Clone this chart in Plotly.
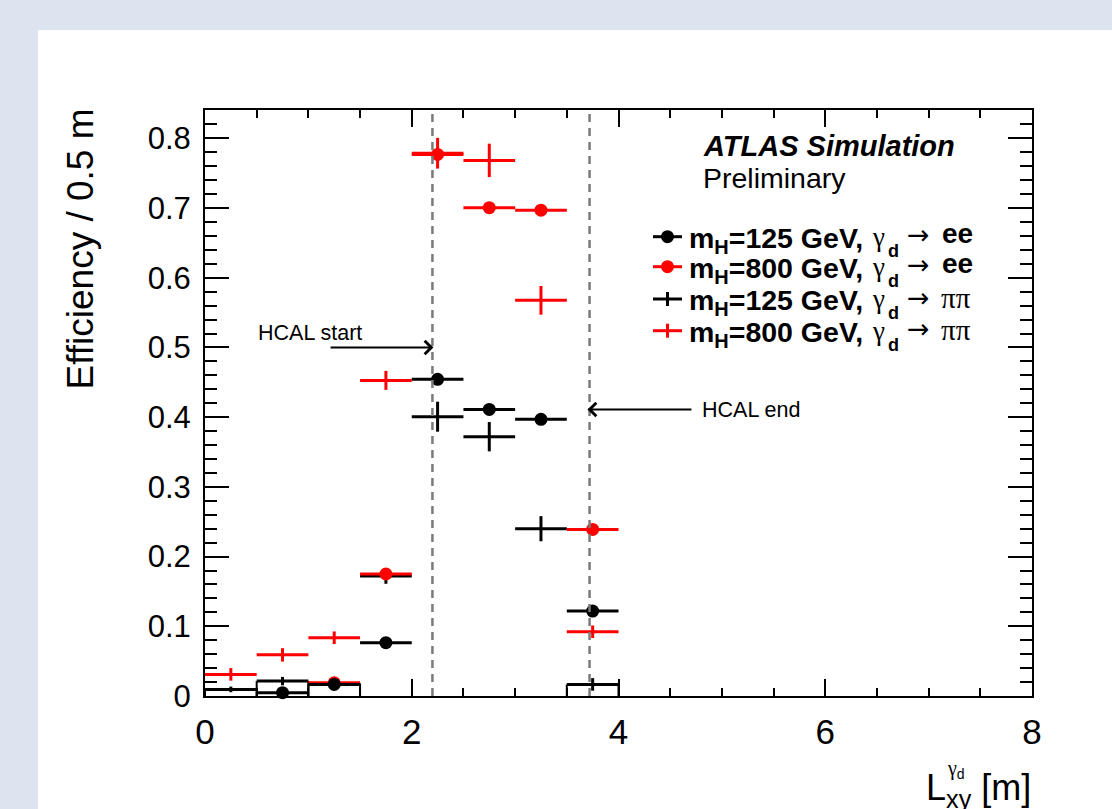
import plotly.graph_objects as go

# ---------------- data ----------------
bin_lo = [0.0, 0.5, 1.0, 1.5, 2.0, 2.5, 3.0, 3.5]
bin_hi = [0.5, 1.0, 1.5, 2.0, 2.5, 3.0, 3.5, 4.0]

eff_125_ee = [None, 0.0047, 0.0166, 0.0765, 0.4543, 0.4112, 0.3969, 0.1218]
err_125_ee = [0.0, 0.004, 0.004, 0.005, 0.006, 0.006, 0.006, 0.006]

eff_800_ee = [None, None, 0.019, 0.1750, 0.7770, 0.7005, 0.6970, 0.2390]
err_800_ee = [0.0, 0.0, 0.004, 0.006, 0.007, 0.007, 0.007, 0.007]

eff_125_pipi = [0.0095, 0.0214, 0.018, 0.172, 0.4007, 0.372, 0.240, 0.0166]
err_125_pipi = [0.004, 0.006, 0.005, 0.011, 0.0215, 0.021, 0.018, 0.009]

eff_800_pipi = [0.031, 0.059, 0.0836, 0.4528, 0.7787, 0.7684, 0.5676, 0.0922]
err_800_pipi = [0.009, 0.0096, 0.009, 0.0136, 0.022, 0.024, 0.0206, 0.009]

hcal_start = 2.2
hcal_end = 3.72

x_tick_vals = [0, 2, 4, 6, 8]
y_tick_vals = [0, 0.1, 0.2, 0.3, 0.4, 0.5, 0.6, 0.7, 0.8]
y_tick_text = ["0", "0.1", "0.2", "0.3", "0.4", "0.5", "0.6", "0.7", "0.8"]

legend_mass = ["125", "800", "125", "800"]
legend_final = ["ee", "ee", "ππ", "ππ"]
legend_colors = ["black", "red", "black", "red"]
legend_is_circle = [True, True, False, False]

# ---------------- layout geometry ----------------
W, H = 1112, 809
L, R, T, B = 205, 80, 110, 113
PW, PH = W - L - R, H - T - B
Y_MAX = 0.8407
FONT = "Liberation Sans, Arial, Helvetica, sans-serif"
SERIF = "Liberation Serif, Times New Roman, serif"


def px(xp):
    return (xp - L) / PW


def py(yp):
    return (H - B - yp) / PH


centers = [(a + b) / 2 for a, b in zip(bin_lo, bin_hi)]
half = [(b - a) / 2 for a, b in zip(bin_lo, bin_hi)]

fig = go.Figure()


def add_series(y, ey, color, circle):
    xs, ys, exs, eys = [], [], [], []
    for c, h, v, e in zip(centers, half, y, ey):
        if v is None:
            continue
        xs.append(c); ys.append(v); exs.append(h); eys.append(e)
    fig.add_trace(go.Scatter(
        x=xs, y=ys, mode="markers",
        marker=dict(symbol="circle", size=13 if circle else 1, color=color,
                    line=dict(width=0)),
        error_x=dict(type="data", array=exs, visible=True, color=color,
                     thickness=3, width=0),
        error_y=dict(type="data", array=eys, visible=True, color=color,
                     thickness=3, width=0),
        cliponaxis=False, showlegend=False, hoverinfo="skip"))


# bracket outlines of low 125 GeV pi-pi bins
bx, by = [], []
for lo, hi, v in zip(bin_lo, bin_hi, eff_125_pipi):
    if v is not None and v < 0.03:
        bx += [lo, lo, None, hi, hi, None]
        by += [0, v, None, 0, v, None]
fig.add_trace(go.Scatter(x=bx, y=by, mode="lines",
                         line=dict(color="black", width=2),
                         showlegend=False, hoverinfo="skip"))

add_series(eff_125_pipi, err_125_pipi, "black", False)
add_series(eff_800_ee, err_800_ee, "red", True)
add_series(eff_800_pipi, err_800_pipi, "red", False)
add_series(eff_125_ee, err_125_ee, "black", True)

shapes = []
# white panel
shapes.append(dict(type="rect", xref="paper", yref="paper",
                   x0=px(38), x1=px(1200), y0=py(900), y1=py(30),
                   fillcolor="white", line=dict(width=0), layer="below"))
# HCAL dashed lines
for xv in (hcal_start, hcal_end):
    shapes.append(dict(type="line", xref="x", yref="paper", x0=xv, x1=xv,
                       y0=0, y1=1, line=dict(color="#7a7a7a", width=2.5,
                                             dash="8px,6px")))

annotations = []


def txt(x, y, text, size, xanchor="left", yanchor="middle", family=FONT, **kw):
    annotations.append(dict(xref="paper", yref="paper", x=px(x), y=py(y),
                            xanchor=xanchor, yanchor=yanchor, text=text,
                            showarrow=False,
                            font=dict(size=size, color="black", family=family), **kw))


# legend
row_y = [236.7, 266.7, 299.0, 330.7]
for ry, mass, fin, col, circ in zip(row_y, legend_mass, legend_final,
                                     legend_colors, legend_is_circle):
    shapes.append(dict(type="line", xref="paper", yref="paper",
                       x0=px(653), x1=px(682), y0=py(ry), y1=py(ry),
                       line=dict(color=col, width=3)))
    if circ:
        shapes.append(dict(type="circle", xref="paper", yref="paper",
                           x0=px(667.5 - 6.5), x1=px(667.5 + 6.5),
                           y0=py(ry + 6.5), y1=py(ry - 6.5),
                           fillcolor=col, line=dict(width=0)))
    else:
        shapes.append(dict(type="line", xref="paper", yref="paper",
                           x0=px(667.5), x1=px(667.5), y0=py(ry + 7), y1=py(ry - 7),
                           line=dict(color=col, width=3)))
    txt(687, ry + 3, "<b>m<sub>H</sub>=" + mass + " GeV,</b>", 28.5)
    txt(870, ry, "γ", 27, family=SERIF)
    txt(886, ry + 14, "<b>d</b>", 18)
    txt(905, ry - 2, "→", 27, family="DejaVu Sans, sans-serif")
    if fin == "ee":
        txt(940, ry - 3, "<b>ee</b>", 28)
    else:
        txt(939, ry - 1, "ππ", 29, family=SERIF)

txt(701, 146, "<b><i>ATLAS Simulation</i></b>", 29)
txt(701, 178, "Preliminary", 28.5)
txt(256, 332.5, "HCAL start", 21.5)
txt(700, 410, "HCAL end", 21.5)

annotations += [
    dict(xref="x", yref="y", x=hcal_start + 0.01, y=0.5, axref="x", ayref="y",
         ax=1.2, ay=0.5, text="", showarrow=True, arrowhead=4, arrowwidth=2,
         arrowsize=1.3, arrowcolor="black", standoff=0),
    dict(xref="x", yref="y", x=hcal_end - 0.02, y=0.411, axref="x", ayref="y",
         ax=4.72, ay=0.411, text="", showarrow=True, arrowhead=4, arrowwidth=2,
         arrowsize=1.3, arrowcolor="black", standoff=0),
]
# y title
txt(80, 107, "Efficiency / 0.5 m", 37, xanchor="center", yanchor="top", textangle=-90)
# x title
txt(1033, 790, "L<sub>xy</sub> [m]", 36, xanchor="right")
txt(945, 755, "<span style='font-family:Liberation Serif'>γ</span><sub>d</sub>", 20,
    yanchor="top")

axis_common = dict(showline=True, linecolor="black", linewidth=2, mirror="ticks",
                   ticks="inside", tickwidth=2, tickcolor="black",
                   showgrid=False, zeroline=False)

fig.update_layout(
    width=W, height=H,
    margin=dict(l=L, r=R, t=T, b=B, pad=0),
    paper_bgcolor="#dce4f0", plot_bgcolor="white",
    font=dict(family=FONT, color="black"),
    xaxis=dict(range=[0, 8], tickvals=x_tick_vals, ticklen=17,
               tickfont=dict(size=35, family=FONT, color="black"),
               minor=dict(dtick=0.5, ticklen=8, tickwidth=2, ticks="inside",
                          tickcolor="black"),
               ticklabelstandoff=4, **axis_common),
    yaxis=dict(range=[0, Y_MAX], tickvals=y_tick_vals, ticktext=y_tick_text,
               ticklen=24, tickfont=dict(size=31, family=FONT, color="black"),
               minor=dict(dtick=0.02, ticklen=12, tickwidth=2, ticks="inside",
                          tickcolor="black"),
               ticklabelstandoff=6, **axis_common),
    shapes=shapes, annotations=annotations, showlegend=False,
)

fig.write_html("out.html", config={"displayModeBar": False},
               post_script="document.body.style.margin='0px';")
